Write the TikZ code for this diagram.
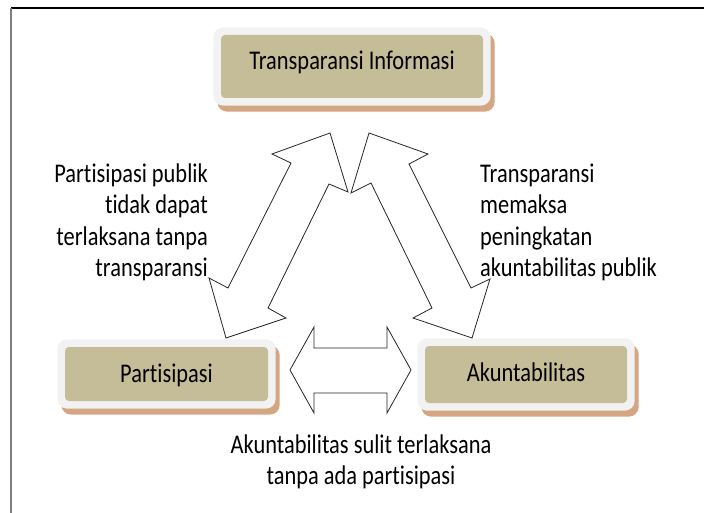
\documentclass[tikz,border=0pt]{standalone}
\usepackage{fontspec}
\setmainfont[FakeStretch=0.83, Ligatures=CommonOff]{Carlito}
\usetikzlibrary{calc,backgrounds}
\definecolor{tanfill}{RGB}{196,189,151}
\definecolor{framefill}{RGB}{242,242,242}
\definecolor{shadowfill}{RGB}{212,166,131}
\newcommand\framedbox[1]{%
  \begin{scope}[on background layer]
    \fill[shadowfill, rounded corners=10pt] ($(#1.north west)+(-3.5,-1.5)$) rectangle ($(#1.south east)+(11.5,13.5)$);
    \fill[framefill, rounded corners=10pt] ($(#1.north west)+(-7.5,-7.5)$) rectangle ($(#1.south east)+(7.5,7.5)$);
  \end{scope}}
\begin{document}
\begin{tikzpicture}[x=1pt,y=-1pt,
  tanbox/.style={fill=tanfill, rounded corners=4pt, inner sep=0pt},
  lbl/.style={font=\fontsize{27}{30}\selectfont, inner sep=0pt},
  body/.style={font=\fontsize{27}{31.5}\selectfont, inner sep=0pt},
  blockarrow/.style={draw=black!85, fill=white, line width=0.8pt, line join=miter}]
\useasboundingbox (0,0) rectangle (704,513);
\draw[line width=1.3pt] (11,8) -- (704,8);
\draw[gray, line width=1.3pt] (11,8) -- (11,513);

% boxes
\node[tanbox, minimum width=262pt, minimum height=63pt] (ti) at (352,66.5) {};
\node[tanbox, minimum width=203pt, minimum height=54pt] (pa) at (166.5,374) {};
\node[tanbox, minimum width=202pt, minimum height=57pt] (ak) at (526,374.5) {};
\framedbox{ti}
\framedbox{pa}
\framedbox{ak}
\node[lbl, anchor=base] (tiL) at ($(ti.center)+(0,3.5)$) {Transparansi Informasi};
\node[lbl, anchor=base] (paL) at ($(pa.center)+(0,8.5)$) {Partisipasi};
\node[lbl, anchor=base] (akL) at ($(ak.center)+(0,7.2)$) {Akuntabilitas};

% block arrows
\draw[blockarrow] (291,163) -- (272,154) -- (330,133) -- (348,192) -- (329,184)
  -- (268,308) -- (286,318) -- (226,338) -- (209,278) -- (228,288) -- cycle;
\draw[blockarrow] (369,133) -- (428,154) -- (409,164) -- (471,288) -- (490,279)
  -- (472,338) -- (413,318) -- (432,308) -- (371,183) -- (351,193) -- cycle;
\draw[blockarrow] (290,370) -- (314,327) -- (314,348) -- (387,348) -- (387,327)
  -- (411,370) -- (387,413) -- (387,393) -- (314,393) -- (314,413) -- cycle;

% texts
\node[body, align=right, anchor=north east] (lt) at (208,160)
  {\rule{0pt}{22pt}Partisipasi publik\\tidak dapat\\terlaksana tanpa\\transparansi};
\node[body, align=left, anchor=north west] (rt) at (480,160)
  {\rule{0pt}{22pt}Transparansi\\memaksa\\peningkatan\\akuntabilitas publik};
\node[body, align=center, anchor=north] (bt) at (361,431)
  {\rule{0pt}{22pt}Akuntabilitas sulit terlaksana\\tanpa ada partisipasi};
\end{tikzpicture}
\end{document}
